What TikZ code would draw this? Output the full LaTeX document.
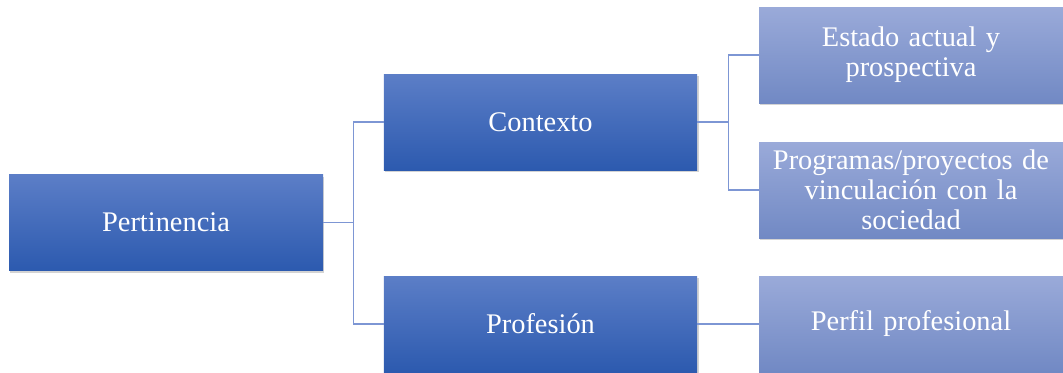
\documentclass[tikz,border=0pt]{standalone}
\usepackage{fontspec}
\setmainfont{Liberation Serif}
\usetikzlibrary{shadows}

\definecolor{darktop}{RGB}{92,126,199}
\definecolor{darkbot}{RGB}{44,90,175}
\definecolor{lighttop}{RGB}{154,170,217}
\definecolor{lightbot}{RGB}{113,137,196}
\definecolor{linkcol}{RGB}{125,150,212}

\tikzset{
  darkbox/.style={rectangle, minimum height=72pt, text=white, inner sep=2pt,
    top color=darktop, bottom color=darkbot, draw=none,
    drop shadow={shadow xshift=1pt, shadow yshift=-1.5pt, opacity=0.35},
    font=\fontsize{21.3}{22.5}\selectfont, align=center},
  lightbox/.style={darkbox, top color=lighttop, bottom color=lightbot,
    minimum width=228pt, text width=222pt},
  link/.style={draw=linkcol, line width=0.8pt}
}

\begin{document}
\begin{tikzpicture}[x=0.75pt,y=0.75pt,yscale=-1]
\useasboundingbox (0,0) rectangle (1063,372);

% level 1
\node [darkbox, minimum width=235.5pt] (pert) at (166,222.5) {Pertinencia};
% level 2
\node [darkbox, minimum width=235pt] (ctx) at (540.5,122) {Contexto};
\node [darkbox, minimum width=235pt] (prof) at (540.5,324) {Profesión};
% level 3
\node [lightbox] (est) at (911,55) {Estado actual y\\prospectiva};
\node [lightbox] (prog) at (911,190) {Programas/proyectos de\\vinculación con la\\sociedad};
\node [lightbox] (perf) at (911,324) {Perfil profesional};

% connectors
\draw [link] (pert.east) -- ++(30,0) |- (ctx.west);
\draw [link] (pert.east) -- ++(30,0) |- (prof.west);
\draw [link] (ctx.east) -- ++(31,0) |- (est.west);
\draw [link] (ctx.east) -- ++(31,0) |- (prog.west);
\draw [link] (prof.east) -- (perf.west);

\end{tikzpicture}
\end{document}
